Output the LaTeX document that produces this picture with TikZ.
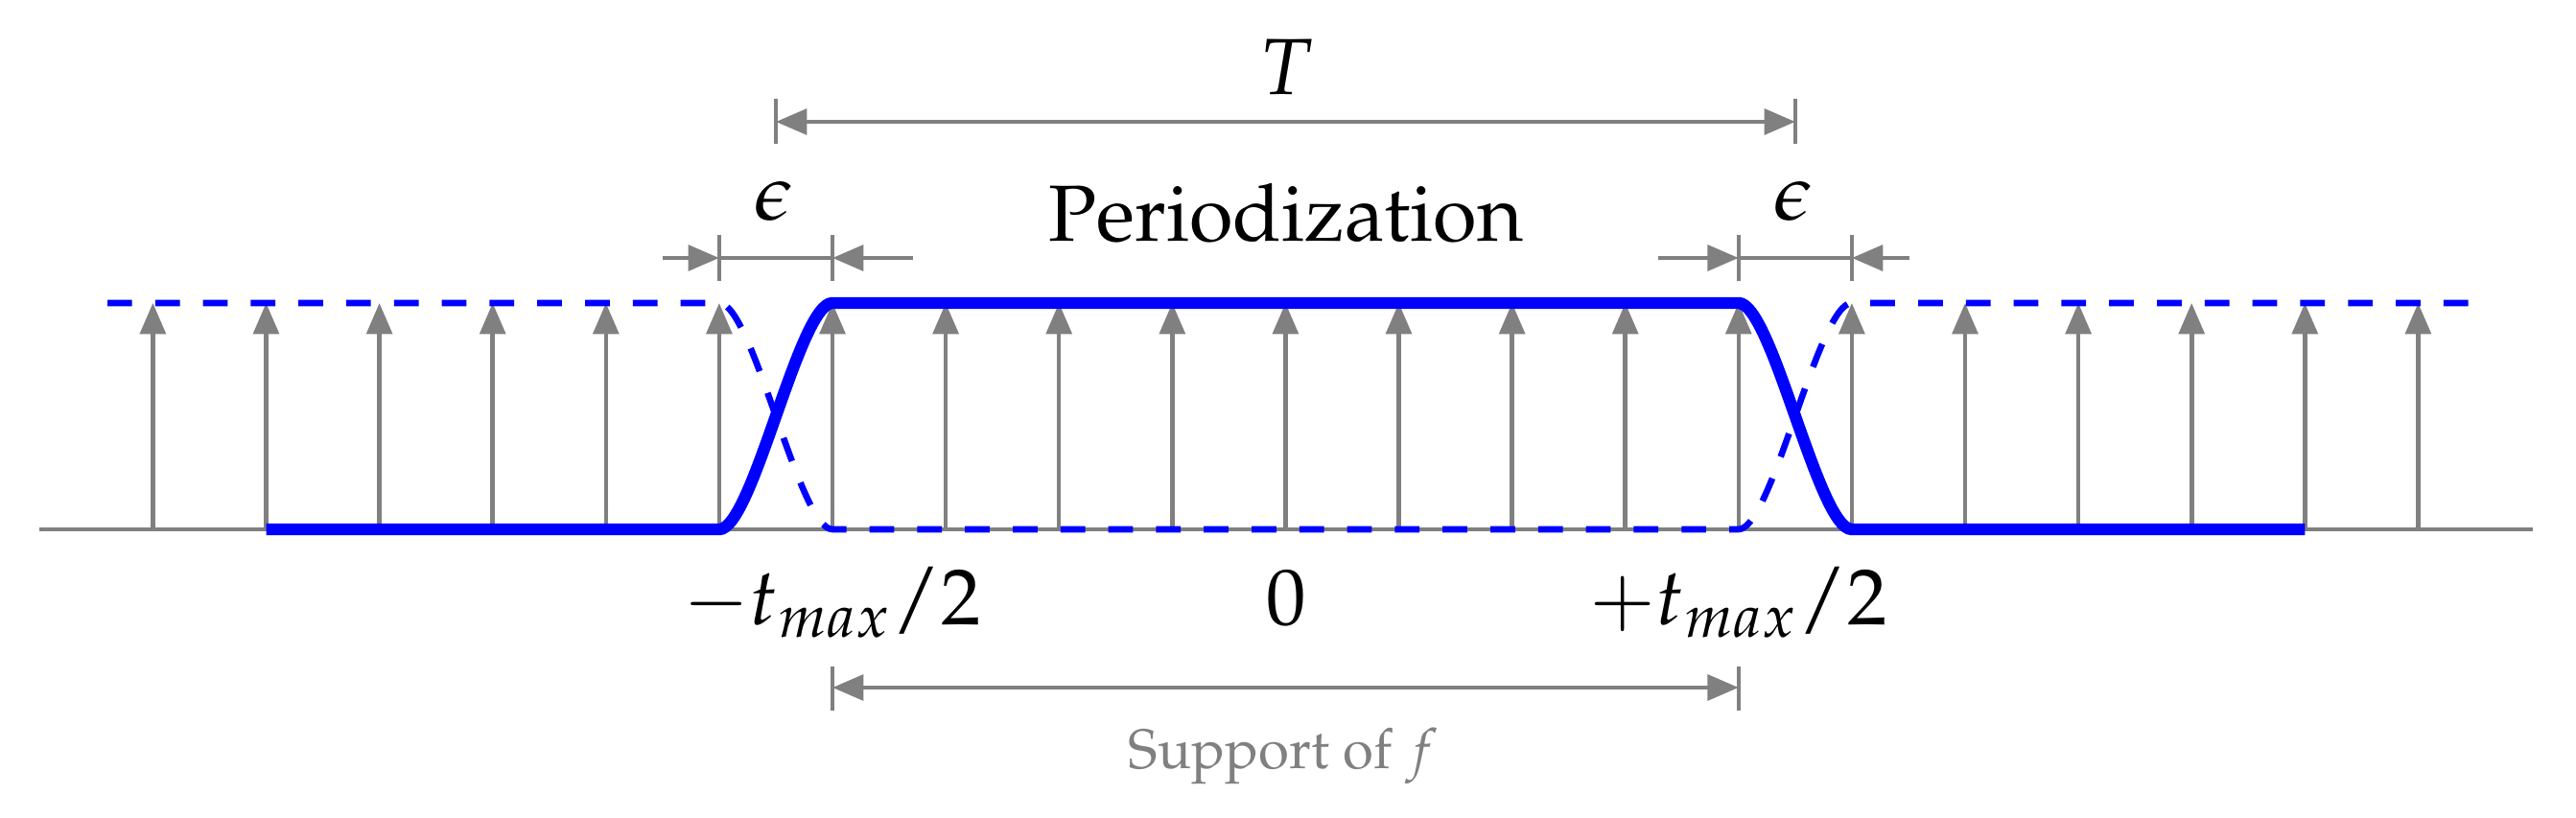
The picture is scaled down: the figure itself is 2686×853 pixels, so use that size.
\documentclass[tikz,border=0pt]{standalone}
\usepackage[T1]{fontenc}
\usepackage{mathpazo}
\usetikzlibrary{arrows.meta}
\definecolor{gline}{RGB}{128,128,128}
\definecolor{bline}{RGB}{0,0,255}
\tikzset{
  gl/.style={draw=gline, line width=1.1pt},
  gtip/.style={-{Triangle[length=7.8pt,width=6.4pt]}},
  gboth/.style={{Triangle[length=7.8pt,width=6.4pt]}-{Triangle[length=7.8pt,width=6.4pt]}},
  fsolid/.style={draw=bline, line width=3pt},
  fdash/.style={draw=bline, line width=1.6pt, dash pattern=on 6.2pt off 5.8pt},
  biglabel/.style={font=\fontsize{20}{24}\selectfont, inner sep=0pt, anchor=base},
  supplabel/.style={font=\fontsize{14}{17}\selectfont, text=gline, inner sep=0pt, anchor=base}
}
\begin{document}
\begin{tikzpicture}[x=0.0084674cm,y=-0.0084674cm]
\useasboundingbox (0,0) rectangle (2686,853);
% axis
\coordinate (axL) at (41,552);
\coordinate (axR) at (2641,552);
\draw[gl] (axL) -- (axR);
% sample arrows
\foreach \k in {-6,...,14}{
  \pgfmathsetmacro\xx{868+118.1*\k}
  \coordinate (b\k) at (\xx,552);
  \coordinate (t\k) at (\xx,316);
  \draw[gl,gtip] (b\k) -- (t\k);
}
% key points
\coordinate (sL) at (277.5,552);
\coordinate (p0) at (749.9,552);
\coordinate (p1) at (868,316);
\coordinate (p2) at (1812.8,316);
\coordinate (p3) at (1930.9,552);
\coordinate (sR) at (2403.3,552);
\coordinate (dL) at (112,316);
\coordinate (q0) at (749.9,316);
\coordinate (q1) at (868,552);
\coordinate (q2) at (1812.8,552);
\coordinate (q3) at (1930.9,316);
\coordinate (dR) at (2582,316);
% dashed periodized
\draw[fdash] (dL) -- (q0) .. controls +(35,0) and +(-35,0) .. (q1) -- (q2)
   .. controls +(35,0) and +(-35,0) .. (q3) -- (dR);
% solid window
\draw[fsolid] (sL) -- (p0) .. controls +(35,0) and +(-35,0) .. (p1) -- (p2)
   .. controls +(35,0) and +(-35,0) .. (p3) -- (sR);
% epsilon left
\coordinate (e1a) at (749.9,245); \coordinate (e1b) at (749.9,293);
\coordinate (e2a) at (868,245);   \coordinate (e2b) at (868,293);
\coordinate (e1) at (749.9,269);  \coordinate (e2) at (868,269);
\coordinate (e1o) at (691,269);   \coordinate (e2o) at (952,269);
\draw[gl] (e1a) -- (e1b);
\draw[gl] (e2a) -- (e2b);
\draw[gl] (e1) -- (e2);
\draw[gl,gtip] (e1o) -- (e1);
\draw[gl,gtip] (e2o) -- (e2);
% epsilon right
\coordinate (f1a) at (1812.8,245); \coordinate (f1b) at (1812.8,293);
\coordinate (f2a) at (1930.9,245); \coordinate (f2b) at (1930.9,293);
\coordinate (f1) at (1812.8,269);  \coordinate (f2) at (1930.9,269);
\coordinate (f1o) at (1729,269);   \coordinate (f2o) at (1991,269);
\draw[gl] (f1a) -- (f1b);
\draw[gl] (f2a) -- (f2b);
\draw[gl] (f1) -- (f2);
\draw[gl,gtip] (f1o) -- (f1);
\draw[gl,gtip] (f2o) -- (f2);
% T
\coordinate (T1a) at (809,103); \coordinate (T1b) at (809,150);
\coordinate (T2a) at (1872,103); \coordinate (T2b) at (1872,150);
\coordinate (T1) at (809,127); \coordinate (T2) at (1872,127);
\draw[gl] (T1a) -- (T1b);
\draw[gl] (T2a) -- (T2b);
\draw[gl,gboth] (T1) -- (T2);
% support
\coordinate (S1a) at (868,695); \coordinate (S1b) at (868,741);
\coordinate (S2a) at (1812.8,695); \coordinate (S2b) at (1812.8,741);
\coordinate (S1) at (868,717); \coordinate (S2) at (1812.8,717);
\draw[gl] (S1a) -- (S1b);
\draw[gl] (S2a) -- (S2b);
\draw[gl,gboth] (S1) -- (S2);
% labels
\node[biglabel] (lT) at (1341,99) {$T$};
\node[biglabel] (lper) at (1341,252) {Periodization};
\node[biglabel] (leps1) at (807,230) {$\epsilon$};
\node[biglabel] (leps2) at (1870,230) {$\epsilon$};
\node[biglabel] (lm) at (868,652) {$-t_{max}/2$};
\node[biglabel] (lz) at (1341,652) {$0$};
\node[biglabel] (lp) at (1812.8,652) {$+t_{max}/2$};
\node[supplabel] (lsup) at (1338,802) {Support of $f$};
\end{tikzpicture}
\end{document}
